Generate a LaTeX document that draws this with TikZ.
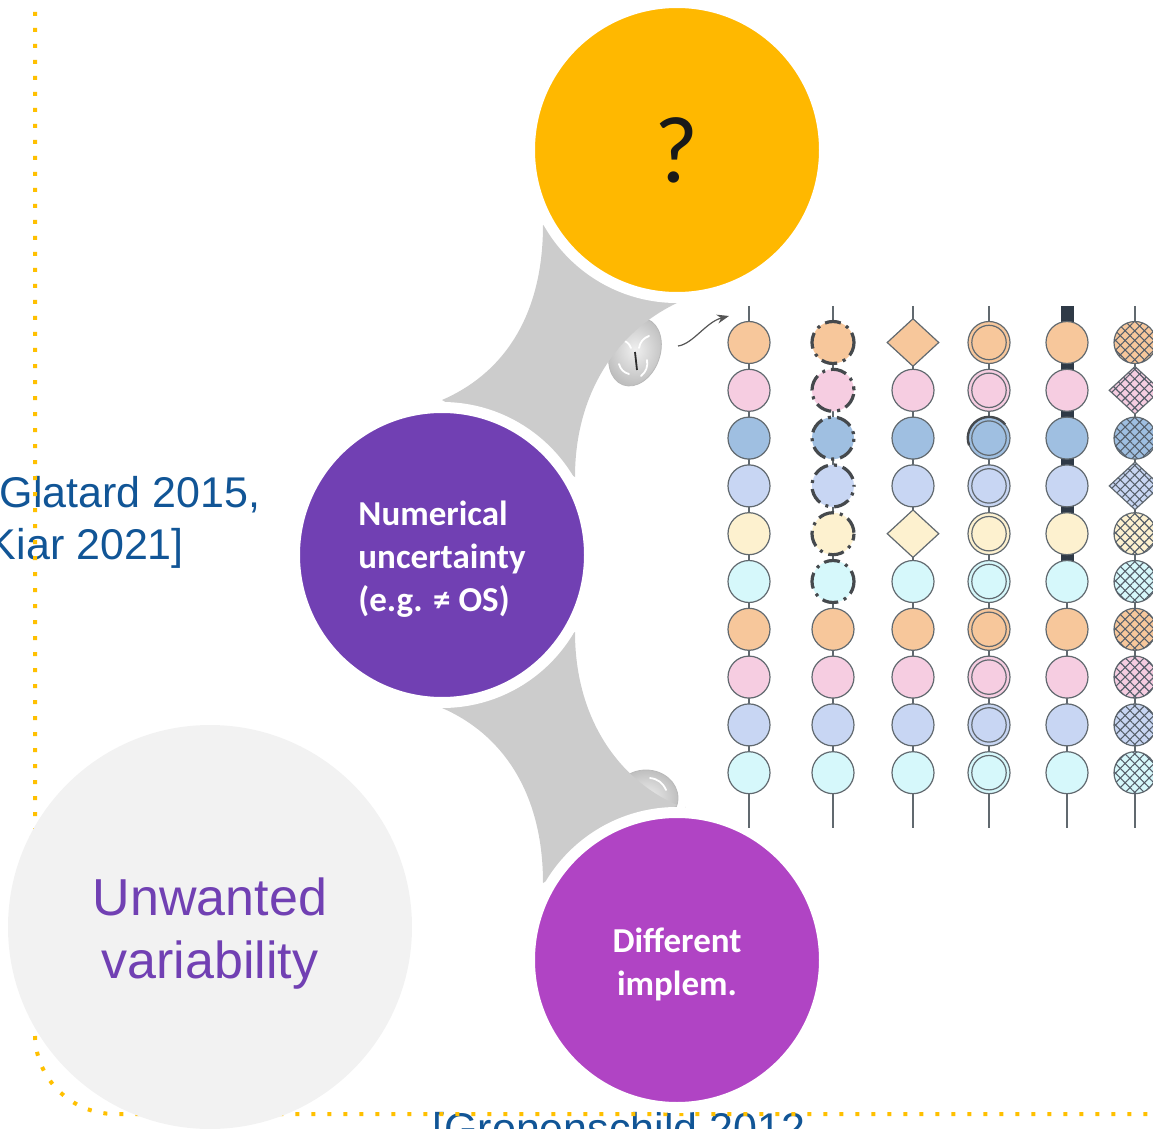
\documentclass[tikz,border=0pt]{standalone}
\usepackage{fontspec}
\setmainfont{Liberation Sans}
\newfontfamily\calibri{Carlito}
\usetikzlibrary{positioning,arrows.meta,patterns.meta,shapes.geometric}

\definecolor{qgold}{HTML}{FFB800}
\definecolor{numpurple}{HTML}{7140B3}
\definecolor{implmagenta}{HTML}{B044C4}
\definecolor{unwgrey}{HTML}{F2F2F2}
\definecolor{linkgrey}{HTML}{CCCCCC}
\definecolor{citeblue}{HTML}{115596}
\definecolor{dotgold}{HTML}{FFC000}
\definecolor{beadline}{HTML}{61696F}
\definecolor{dashgrey}{HTML}{45494D}
\definecolor{darkbar}{HTML}{2F3A47}
\definecolor{hatch}{HTML}{555E69}
\definecolor{arrowgrey}{HTML}{555555}
\definecolor{borange}{HTML}{F7C79B}
\definecolor{bpink}{HTML}{F6CDE1}
\definecolor{bblue}{HTML}{9FBFE1}
\definecolor{blav}{HTML}{C8D6F3}
\definecolor{bcream}{HTML}{FDF1CF}
\definecolor{bcyan}{HTML}{D6F8FB}

\tikzset{
	bigcircle/.style={circle, draw=white, line width=5.5pt, minimum size=147.5pt, inner sep=0pt},
	circletext/.style={text=white, font=\calibri\bfseries\fontsize{17.5}{21.5}\selectfont, inner sep=0pt},
	bead/.style={circle, draw=beadline, line width=0.6pt, minimum size=21pt, inner sep=0pt},
	beaddiamond/.style={diamond, draw=beadline, line width=0.6pt, minimum width=26pt, minimum height=24pt, inner sep=0pt},
	dashbead/.style={bead, draw=dashgrey, line width=1.6pt, dash pattern=on 8pt off 3pt on 1.5pt off 3pt},
	hatched/.style={postaction={pattern={Lines[angle=45,distance=3.4pt,line width=0.55pt]}, pattern color=hatch}, postaction={pattern={Lines[angle=-45,distance=3.4pt,line width=0.55pt]}, pattern color=hatch}},
	beadwire/.style={draw=beadline, line width=0.75pt},
	link/.style={fill=linkgrey},
	dotframe/.style={draw=dotgold, line width=2pt, dash pattern=on 2pt off 6pt, rounded corners=40pt},
	cite/.style={text=citeblue, font=\fontsize{21.5}{25.75}\selectfont, align=left, inner sep=0pt},
	brain/.style={ellipse, draw=gray!55, inner color=gray!12, outer color=gray!50, inner sep=0pt},
	gyrus/.style={white, line width=0.9pt, line cap=round},
	pointer/.style={draw=arrowgrey, line width=0.6pt, -{Stealth[length=6pt,width=4.5pt]}}
}

\begin{document}
\begin{tikzpicture}[x=0.5pt,y=-0.5pt]
	\useasboundingbox (0,0) rectangle (1153,1129);
	\clip (0,0) rectangle (1153,1129);

	% references
	\node[cite, anchor=base west] (glatard) at (-12.5,559) {[Glatard 2015,\\Kiar 2021]};
	\node[cite, anchor=base west] (gronenschild) at (432,1143) {[Gronenschild 2012};

	% dotted frame
	\draw[dotframe] (35,-20) -- (35,1114) -- (1180,1114);

	\node[circle, fill=unwgrey, minimum size=202pt, inner sep=0pt] (unwanted) at (210,927) {};
	\node[text=numpurple, align=center, font=\fontsize{26}{31.5}\selectfont, inner sep=0pt] (unwanted-txt) at ([yshift=-3.5pt]unwanted.center) {Unwanted\\variability};

	% brains and pointers
	\node[brain, rotate=-20, minimum width=25pt, minimum height=35pt] (brainA) at (635,352) {};
	\draw[gyrus] ([xshift=-7pt,yshift=6pt]brainA.center) to[bend left] ([xshift=-2pt,yshift=2pt]brainA.center);
	\draw[gyrus] ([xshift=7pt,yshift=8pt]brainA.center) to[bend right] ([xshift=2pt,yshift=2pt]brainA.center);
	\draw[gyrus] ([xshift=-8pt,yshift=-6pt]brainA.center) to[bend right] ([xshift=-3pt,yshift=-11pt]brainA.center);
	\draw[gyrus] ([xshift=6pt,yshift=-4pt]brainA.center) to[bend left] ([xshift=3pt,yshift=-12pt]brainA.center);
	\draw[gray!35!black, line width=0.9pt] ([yshift=0pt]brainA.center) -- ([xshift=1pt,yshift=-9pt]brainA.center);
	\node[brain, minimum width=32pt, minimum height=28pt] (brainB) at (646,798) {};
	\draw[gray!30!black, line width=0.9pt] ([xshift=-7pt,yshift=-5pt]brainB.center) -- ([xshift=1pt,yshift=3pt]brainB.center) -- ([xshift=8pt,yshift=-5pt]brainB.center);
	\draw[gyrus] ([xshift=2pt,yshift=10pt]brainB.center) to[bend left] ([xshift=10pt,yshift=4pt]brainB.center);

	\coordinate (ptrA-s) at (678,346);
	\coordinate (ptrA-e) at (729,316);
	\draw[pointer] (ptrA-s) .. controls (693,344) and (706,322) .. (ptrA-e);

	% grey links
	\fill[link] (543,225) -- (677,303) .. controls (620,330) and (575,390) .. (575,477) -- (442,400) .. controls (500,375) and (543,320) .. (543,225) -- cycle;
	\fill[link] (575,632) .. controls (575,720) and (620,780) .. (677,805) -- (543,883) .. controls (543,790) and (500,733) .. (442,708) -- cycle;

	\coordinate (ptrB-s) at (745,834);
	\coordinate (ptrB-e) at (674,812);
	\draw[pointer] (ptrB-s) .. controls (722,820) and (700,811) .. (ptrB-e);

	% main circles
	\node[bigcircle, fill=qgold, text=black!90, font=\calibri\fontsize{47.5}{57}\selectfont] (question) at (677,150) {?};
	\node[bigcircle, fill=numpurple] (numerical) at (442,555) {};
	\node[circletext, align=left] (numerical-txt) at ([yshift=-2pt]numerical.center) {Numerical\\uncertainty\\(e.g. ≠ OS)};
	\node[bigcircle, fill=implmagenta] (implem) at (677,960) {};
	\node[circletext, align=center] (implem-txt) at ([yshift=-2.2pt]implem.center) {Different\\implem.};

	% bead columns
	\foreach \c/\x in {1/749,2/833,3/913,4/989,5/1067,6/1135} {
		\coordinate (w\c-top) at (\x,306);
		\coordinate (w\c-bot) at (\x,828);
		\draw[beadwire] (w\c-top) -- (w\c-bot);
	}
	\coordinate (w5-mid) at (1067,575);
	\draw[darkbar, line width=6.5pt] (w5-top) -- (w5-mid);

	\foreach \r/\bc/\da/\db in {1/borange/1/0,2/bpink/0/1,3/bblue/0/0,4/blav/0/1,5/bcream/1/0,6/bcyan/0/0,7/borange/0/0,8/bpink/0/0,9/blav/0/0,10/bcyan/0/0} {
		\pgfmathsetmacro{\by}{342.5+47.8*(\r-1)}
		\node[bead, fill=\bc] (b1-\r) at (749,\by) {};
		\ifnum\r<7
			\node[dashbead, fill=\bc, dash phase=\r*3pt] (b2-\r) at (833,\by) {};
		\else
			\node[bead, fill=\bc] (b2-\r) at (833,\by) {};
		\fi
		\ifnum\da=1
			\node[beaddiamond, fill=\bc] (b3-\r) at (913,\by) {};
		\else
			\node[bead, fill=\bc] (b3-\r) at (913,\by) {};
		\fi
		\node[bead, fill=\bc] (b4-\r) at (989,\by) {};
		\draw[beadline, line width=0.6pt] (b4-\r) circle[radius=8.6pt];
		\node[bead, fill=\bc] (b5-\r) at (1067,\by) {};
		\ifnum\db=1
			\node[beaddiamond, fill=\bc, hatched] (b6-\r) at (1135,\by) {};
		\else
			\node[bead, fill=\bc, hatched] (b6-\r) at (1135,\by) {};
		\fi
	}
	\draw[dashgrey, line width=1.2pt] ([shift={(200:10.6pt)}]b4-3.center) arc[start angle=200, end angle=40, radius=10.6pt];
\end{tikzpicture}
\end{document}
